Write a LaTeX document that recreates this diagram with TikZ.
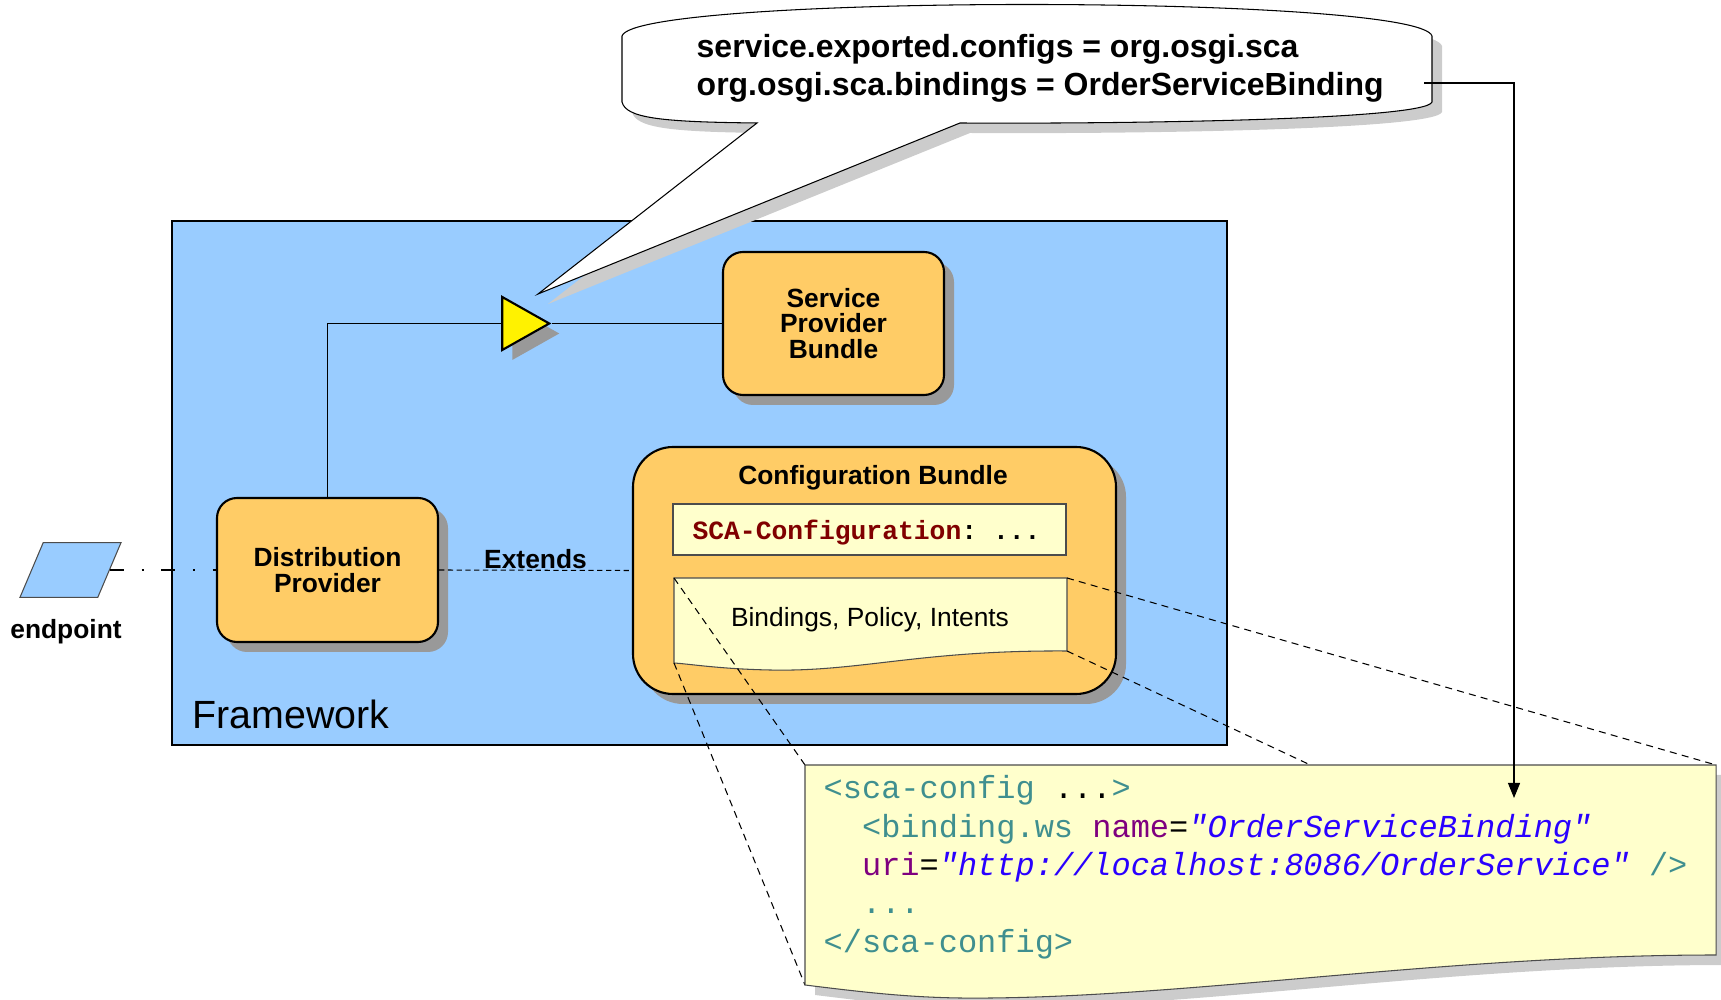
\documentclass[tikz,border=0pt]{standalone}
\usepackage{fontspec}
\setmainfont{Liberation Sans}
\setmonofont{Liberation Mono}
\usepackage{tikz}
\usetikzlibrary{shapes.geometric, arrows.meta, positioning, shadows}
\usepackage{xcolor}
\definecolor{framecolor}{HTML}{99CCFF}
\definecolor{bundlecolor}{HTML}{FFCC66}
\definecolor{doccolor}{HTML}{FFFFCC}
\definecolor{shadowcolor}{HTML}{999999}
\definecolor{lightshadow}{HTML}{CCCCCC}
\definecolor{tagcolor}{HTML}{3F8F8F}
\definecolor{attrcolor}{HTML}{7F007F}
\definecolor{valuecolor}{HTML}{2A00FF}
\definecolor{keycolor}{HTML}{800000}
\newcommand{\bundlefont}{\fontsize{7.5}{7.3}\selectfont}
\newcommand{\codefont}{\fontsize{9.1}{10.9}\selectfont\ttfamily}
\newcommand{\xtag}[1]{\textcolor{tagcolor}{#1}}
\newcommand{\xattr}[1]{\textcolor{attrcolor}{#1}}
\newcommand{\xval}[1]{\textcolor{valuecolor}{\itshape #1}}

\begin{document}
\begin{tikzpicture}[
    bundle/.style={rectangle, rounded corners=0.2cm, draw, line width=0.6pt, fill=bundlecolor, font=\bfseries\bundlefont, align=center, inner sep=0,
        drop shadow={shadow xshift=0.1cm, shadow yshift=-0.1cm, fill=shadowcolor, opacity=1}},
    doc/.style={draw=black!70, line width=0.3pt, fill=doccolor},
    link/.style={line width=0.3pt},
    zoomline/.style={line width=0.3pt, dash pattern=on 2pt off 1.5pt},
]
\useasboundingbox (0,0) rectangle (17.21,-10);

% framework area
\node[draw, line width=0.4pt, fill=framecolor, minimum width=10.55cm, minimum height=5.24cm, inner sep=0] (framework) at (6.995,-4.83) {};
\node[font=\fontsize{11.2}{13}\selectfont] (frameworklabel) at (2.91,-7.14) {Framework};

% bundles
\node[bundle, minimum width=2.21cm, minimum height=1.43cm] (spb) at (8.335,-3.235) {Service\\Provider\\Bundle};
\node[bundle, minimum width=2.21cm, minimum height=1.44cm] (dp) at (3.275,-5.70) {Distribution\\Provider};
\node[bundle, rounded corners=0.4cm, minimum width=4.83cm, minimum height=2.47cm] (cb) at (8.745,-5.705) {};
\node[font=\bfseries\bundlefont] (cblabel) at (8.73,-4.78) {Configuration Bundle};
\node[doc, minimum width=3.93cm, minimum height=0.51cm, inner sep=0] (sca) at (8.695,-5.295) {};
\node[font=\bfseries\bundlefont\ttfamily] (scatext) at (8.665,-5.33) {\textcolor{keycolor}{SCA-Configuration}: ...};

% bindings document
\coordinate (bindTL) at (6.74,-5.78);
\coordinate (bindTR) at (10.67,-5.78);
\coordinate (bindBR) at (10.67,-6.51);
\coordinate (bindBL) at (6.74,-6.63);
\draw[doc] (bindTL) -- (bindTR) -- (bindBR) .. controls (9.2,-6.50) and (8.6,-6.72) .. (7.7,-6.70)
    .. controls (7.2,-6.69) and (6.9,-6.64) .. (bindBL) -- cycle;
\node[font=\bundlefont] (bindings) at (8.70,-6.20) {Bindings, Policy, Intents};

% exported service
\node[isosceles triangle, isosceles triangle stretches, minimum width=0.53cm, minimum height=0.47cm, inner sep=0,
    draw, line width=0.6pt, fill=yellow, anchor=apex,
    drop shadow={shadow xshift=0.1cm, shadow yshift=-0.1cm, fill=shadowcolor, opacity=1}] (export) at (5.52,-3.235) {};
\draw[link] (dp.north) |- (export.west);
\draw[link] (export.apex) -- (spb.west);
\draw[link, dash pattern=on 1.5pt off 1pt] (dp.east) -- node[above, font=\bfseries\bundlefont, yshift=-3pt] {Extends} (cb.west);

% endpoint
\node[trapezium, trapezium left angle=67, trapezium right angle=113, minimum width=1.01cm, minimum height=0.48cm,
    inner sep=1pt, draw=black!70, line width=0.3pt, fill=framecolor] (endpoint) at (0.705,-5.70) {};
\node[font=\bfseries\bundlefont] (endpointlabel) at (0.66,-6.32) {endpoint};
\draw[link, dash pattern=on 4pt off 5pt on 0.6pt off 5pt] (endpoint.east) -- (dp.west);

% callout
\path[draw, line width=0.3pt, fill=white, drop shadow={shadow xshift=0.1cm, shadow yshift=-0.1cm, fill=lightshadow, opacity=1}]
    (6.22,-0.36) .. controls (6.35,0.06) and (14.19,0.06) .. (14.32,-0.36)
    -- (14.32,-1.02) .. controls (14.26,-1.2) and (11.2,-1.24) .. (9.60,-1.23)
    -- (5.38,-2.94) -- (7.57,-1.23) .. controls (6.6,-1.22) and (6.26,-1.18) .. (6.22,-1.02) -- cycle;
\node[anchor=north west, align=left, inner sep=0, font=\bfseries\fontsize{9.1}{10.6}\selectfont] (props) at (6.96,-0.34)
    {service.exported.configs = org.osgi.sca\\org.osgi.sca.bindings = OrderServiceBinding};

% zoom lines
\coordinate (codeTL) at (8.05,-7.65);
\coordinate (codeTR) at (17.16,-7.65);
\coordinate (codeBR) at (17.16,-9.55);
\coordinate (codeBL) at (8.05,-9.85);
\draw[zoomline] (bindTL) -- (codeTL);
\draw[zoomline] (bindBL) -- (codeBL);
\draw[zoomline] (bindTR) -- (codeTR);
\draw[zoomline] (bindBR) -- (codeBR);

% xml document
\path[doc, drop shadow={shadow xshift=0.1cm, shadow yshift=-0.1cm, fill=lightshadow, opacity=1}]
    (codeTL) -- (codeTR) -- (codeBR) .. controls (14.5,-9.55) and (12,-9.96) .. (9.9,-9.98)
    .. controls (9.2,-9.99) and (8.7,-9.93) .. (codeBL) -- cycle;
\node[anchor=north west, align=left, inner sep=0, font=\codefont] (xml) at (8.23,-7.75) {%
    \xtag{<sca-config} ...\xtag{>}\\
    \hspace*{1.2em}\xtag{<binding.ws} \xattr{name}=\xval{"OrderServiceBinding"}\\
    \hspace*{1.2em}\xattr{uri}=\xval{"http://localhost:8086/OrderService"} \xtag{/>}\\
    \hspace*{1.2em}\xtag{...}\\
    \xtag{</sca-config>}};

% binding reference
\coordinate (bindref) at (14.24,-0.83);
\coordinate (bindtarget) at (15.14,-7.98);
\draw[link, -{Triangle[length=0.15cm, width=0.12cm]}] (bindref) -| (bindtarget);

\end{tikzpicture}
\end{document}
